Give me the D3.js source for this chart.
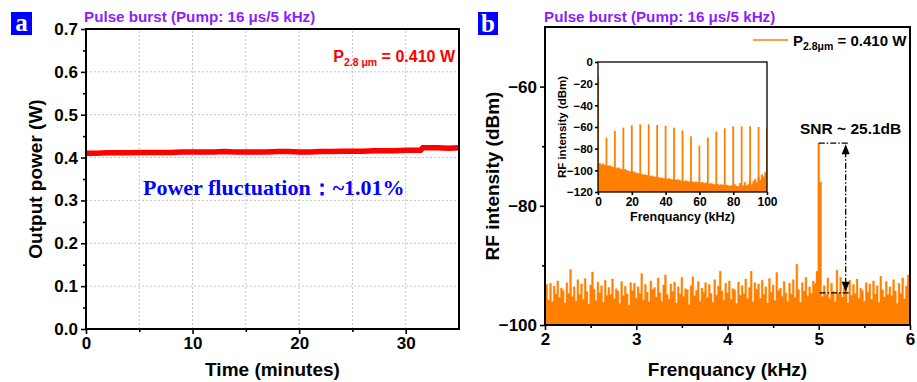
<!DOCTYPE html>
<html><head><meta charset="utf-8">
<script src="https://cdn.jsdelivr.net/npm/d3@7"></script>
<style>
body{margin:0;background:#fff;}
svg{display:block;}
text{font-family:"Liberation Sans",Arial,sans-serif;}
</style></head>
<body>
<svg id="c" width="917" height="382"></svg>
<script>
// ---------- DATA ----------
// Panel a: output power vs time
const timeA = [0,1,2,3,4,5,6,7,8,9,10,11,12,13,14,15,16,17,18,19,20,21,22,23,24,25,26,27,28,29,30,31,31.4,31.6,32,33,34,35];
const powerA = [0.410,0.410,0.411,0.411,0.411,0.412,0.412,0.412,0.412,0.413,0.413,0.413,0.413,0.414,0.413,0.413,0.413,0.413,0.414,0.414,0.413,0.413,0.414,0.414,0.415,0.415,0.415,0.416,0.416,0.416,0.417,0.417,0.417,0.423,0.423,0.423,0.422,0.423];
const yTicksA = [0.0,0.1,0.2,0.3,0.4,0.5,0.6,0.7];
const xTicksA = [0,10,20,30];

// Panel b: RF spectrum 2-6 kHz (sampled every 0.02 kHz from 2 kHz)
const freqStartB = 2.0, freqStepB = 0.02;
const rfB = [
-94.5,-93.2,-95.8,-93.0,-96.1,-93.5,-94.8,-92.6,-95.4,-93.8,
-94.2,-96.3,-92.9,-94.7,-90.7,-95.2,-93.6,-96.0,-92.4,-94.9,
-93.1,-95.7,-92.2,-94.4,-96.5,-93.3,-91.1,-94.0,-95.9,-92.8,
-94.6,-93.4,-96.2,-92.5,-95.0,-93.7,-94.9,-92.3,-95.6,-93.9,
-94.3,-96.4,-92.7,-95.1,-93.5,-94.8,-96.7,-92.9,-94.2,-93.0,
-95.5,-93.6,-94.7,-91.4,-95.8,-93.2,-94.5,-96.1,-92.6,-94.0,
-93.7,-95.3,-92.1,-94.6,-96.0,-93.3,-91.6,-94.9,-95.7,-93.1,
-94.4,-92.8,-96.3,-93.6,-94.8,-92.0,-95.2,-93.9,-94.1,-96.6,
-93.4,-91.9,-95.1,-94.2,-92.7,-96.0,-93.8,-94.5,-92.9,-95.4,
-93.2,-94.7,-96.2,-92.4,-95.0,-93.5,-91.0,-94.3,-95.8,-93.0,
-94.6,-92.6,-95.7,-93.9,-94.1,-96.4,-92.8,-95.0,-93.4,-94.8,
-92.3,-95.6,-93.7,-91.0,-96.1,-92.9,-94.0,-93.1,-95.5,-92.5,
-94.9,-93.6,-96.3,-92.2,-94.5,-93.3,-95.9,-91.2,-94.2,-93.8,
-95.2,-92.7,-94.6,-96.0,-93.0,-94.8,-92.4,-95.4,-89.8,-94.1,
-96.2,-92.9,-94.3,-92.0,-95.1,-93.6,-94.7,-92.6,-93.0,-91.0,
-69.5,-76.0,-95.2,-93.4,-94.9,-92.1,-95.6,-93.0,-94.4,-96.1,
-90.8,-94.6,-92.0,-95.3,-93.7,-94.0,-96.3,-92.5,-95.0,-93.2,
-94.7,-92.3,-95.5,-93.8,-94.2,-96.0,-92.9,-94.5,-93.1,-95.7,
-92.6,-94.8,-93.4,-96.2,-91.8,-94.1,-95.3,-92.7,-94.9,-93.6,
-95.1,-92.4,-94.3,-96.4,-93.0,-94.7,-92.1,-95.6,-93.5,-91.6,
-94.8];
const yTicksB = [-100,-80,-60];
const xTicksB = [2,3,4,5,6];
const snrPeak = -69.5, snrFloor = -94.6;

// Inset: RF spectrum 0-100 kHz
const floorInStart = 0, floorInStep = 1;
const floorIn = [-94,-93.5,-94.5,-94,-95,-95.5,-96,-95.5,-96.5,-97,-97.5,-98,-97.5,-98.5,-99,-99.5,-99,-100,-100.5,-101,
-101.5,-101,-102,-102.5,-103,-103,-103.5,-104,-104,-104.5,-105,-105.5,-105,-106,-106,-106.5,-106.5,-107,-107,-107.5,
-107.5,-108,-107.5,-108,-108.5,-108.5,-109,-108.5,-109,-109.5,-109.5,-110,-109.5,-110,-110.5,-110,-110.5,-111,-110.5,-111,
-111,-111.5,-111,-112,-111.5,-112,-112.5,-112,-112.5,-113,-112.5,-113,-113.5,-113,-113.5,-114,-113.5,-114,-114.5,-114,
-114.5,-113,-114.5,-115,-112,-115,-114,-111,-114,-113,-110,-113,-110,-108,-111,-106,-109,-104,-106,-102,-100];
const peakFreqIn = [0,5,10,15,20,25,30,35,40,45,50,55,60,65,70,75,80,85,90,95,100];
const peakDbIn = [-13,-69.8,-63.7,-60.6,-58.5,-57.5,-57.5,-58.2,-58.8,-60.6,-63.1,-68.6,-77.2,-69.8,-64.3,-61.2,-59.4,-59.4,-59.4,-60,-61.2];
const yTicksIn = [0,-20,-40,-60,-80,-100,-120];
const xTicksIn = [0,20,40,60,80,100];

// ---------- DRAW ----------
const svg = d3.select("#c");
const ORANGE = "#FF8000", PURPLE = "#8C1EFF";
const TICKFS = 17, TITLEFS = 19;

function styleAxis(g, fs){
  g.select(".domain").remove();
  g.selectAll(".tick line").attr("stroke","#000").attr("stroke-width",1.6);
  g.selectAll(".tick text").attr("fill","#000").style("font-family","'Liberation Sans',Arial,sans-serif")
   .style("font-weight","bold").style("font-size",fs+"px");
}

// ===== Panel a =====
const xA = d3.scaleLinear([0,35],[86,459]);
const yA = d3.scaleLinear([0,0.7],[329,29]);
const gridA = svg.append("g").attr("stroke","#c4c4c4").attr("stroke-width",1).attr("stroke-dasharray","2,2");
d3.range(5,35,5).forEach(t=>gridA.append("line").attr("x1",xA(t)).attr("x2",xA(t)).attr("y1",yA(0)).attr("y2",yA(0.7)));
yTicksA.slice(1,-1).forEach(v=>gridA.append("line").attr("x1",xA(0)).attr("x2",xA(35)).attr("y1",yA(v)).attr("y2",yA(v)));

svg.append("path").datum(timeA.map((t,i)=>[t,powerA[i]]))
  .attr("fill","none").attr("stroke","#FF0000").attr("stroke-width",5.5)
  .attr("d",d3.line().x(d=>xA(d[0])).y(d=>yA(d[1])));

let g;
g = svg.append("g").attr("transform",`translate(${xA(0)},0)`)
  .call(d3.axisLeft(yA).tickValues(yTicksA).tickFormat(d3.format(".1f")).tickSize(5).tickPadding(3));
styleAxis(g,TICKFS);
g = svg.append("g").attr("transform",`translate(${xA(0)},0)`)
  .call(d3.axisLeft(yA).tickValues(d3.range(0.05,0.7,0.1)).tickFormat("").tickSize(3));
styleAxis(g,TICKFS);
g = svg.append("g").attr("transform",`translate(0,${yA(0)})`)
  .call(d3.axisBottom(xA).tickValues(xTicksA).tickFormat(d3.format("d")).tickSize(5).tickPadding(3));
styleAxis(g,TICKFS);
g = svg.append("g").attr("transform",`translate(0,${yA(0)})`)
  .call(d3.axisBottom(xA).tickValues([5,15,25]).tickFormat("").tickSize(3));
styleAxis(g,TICKFS);
svg.append("rect").attr("x",xA(0)).attr("y",yA(0.7)).attr("width",xA(35)-xA(0)).attr("height",yA(0)-yA(0.7))
  .attr("fill","none").attr("stroke","#000").attr("stroke-width",2);

svg.append("text").attr("transform",`translate(42,${(yA(0)+yA(0.7))/2}) rotate(-90)`)
  .attr("text-anchor","middle").attr("font-weight","bold").attr("font-size",TITLEFS).text("Output power (W)");
svg.append("text").attr("x",(xA(0)+xA(35))/2).attr("y",376).attr("text-anchor","middle")
  .attr("font-weight","bold").attr("font-size",TITLEFS).text("Time (minutes)");
svg.append("text").attr("x",84).attr("y",22).attr("fill",PURPLE).attr("font-weight","bold").attr("font-size",15.2)
  .text("Pulse burst (Pump: 16 μs/5 kHz)");
const ann = svg.append("text").attr("x",455).attr("y",62).attr("text-anchor","end").attr("fill","#FF0000")
  .attr("font-weight","bold").attr("font-size",16);
ann.append("tspan").text("P");
ann.append("tspan").attr("font-size",10.5).attr("dy",4).text("2.8 μm");
ann.append("tspan").attr("dy",-4).text(" = 0.410 W");
svg.append("text").attr("x",143).attr("y",195).attr("fill","#0000FF").attr("font-weight","bold").attr("font-size",22)
  .style("font-family","'Liberation Serif','Times New Roman',serif").text("Power fluctuation：~1.01%");
svg.append("rect").attr("x",11).attr("y",12).attr("width",21).attr("height",23).attr("fill","#0000FF");
svg.append("text").attr("x",21.5).attr("y",31).attr("text-anchor","middle").attr("fill","#fff").attr("font-weight","bold")
  .attr("font-size",25).style("font-family","'Liberation Serif',serif").text("a");

// ===== Panel b =====
const xB = d3.scaleLinear([2,6],[545,910]);
const yB = d3.scaleLinear([-100,-50],[325,27]);
svg.append("clipPath").attr("id","clipB").append("rect").attr("x",xB(2)).attr("y",yB(-50)).attr("width",xB(6)-xB(2)).attr("height",yB(-100)-yB(-50));
svg.append("path").datum(rfB).attr("clip-path","url(#clipB)")
  .attr("fill",ORANGE).attr("stroke",ORANGE).attr("stroke-width",0.4)
  .attr("d",d3.area().x((d,i)=>xB(freqStartB+i*freqStepB)).y0(yB(-100)).y1(d=>yB(d)).curve(d3.curveStep));

g = svg.append("g").attr("transform",`translate(${xB(2)},0)`)
  .call(d3.axisLeft(yB).tickValues(yTicksB).tickSize(5).tickPadding(3));
styleAxis(g,TICKFS);
g = svg.append("g").attr("transform",`translate(${xB(2)},0)`)
  .call(d3.axisLeft(yB).tickValues([-90,-70]).tickFormat("").tickSize(3));
styleAxis(g,TICKFS);
g = svg.append("g").attr("transform",`translate(0,${yB(-100)})`)
  .call(d3.axisBottom(xB).tickValues(xTicksB).tickFormat(d3.format("d")).tickSize(5).tickPadding(3));
styleAxis(g,TICKFS);
g = svg.append("g").attr("transform",`translate(0,${yB(-100)})`)
  .call(d3.axisBottom(xB).tickValues([2.5,3.5,4.5,5.5]).tickFormat("").tickSize(3));
styleAxis(g,TICKFS);
svg.append("rect").attr("x",xB(2)).attr("y",yB(-50)).attr("width",xB(6)-xB(2)).attr("height",yB(-100)-yB(-50))
  .attr("fill","none").attr("stroke","#000").attr("stroke-width",2);

svg.append("text").attr("transform",`translate(499,${(yB(-100)+yB(-50))/2}) rotate(-90)`)
  .attr("text-anchor","middle").attr("font-weight","bold").attr("font-size",TITLEFS).text("RF intensity (dBm)");
svg.append("text").attr("x",(xB(2)+xB(6))/2).attr("y",376).attr("text-anchor","middle")
  .attr("font-weight","bold").attr("font-size",TITLEFS).text("Frenquancy (kHz)");
svg.append("text").attr("x",544).attr("y",22).attr("fill",PURPLE).attr("font-weight","bold").attr("font-size",15.2)
  .text("Pulse burst (Pump: 16 μs/5 kHz)");
svg.append("rect").attr("x",478).attr("y",12).attr("width",20).attr("height",23).attr("fill","#0000FF");
svg.append("text").attr("x",488).attr("y",32).attr("text-anchor","middle").attr("fill","#fff").attr("font-weight","bold")
  .attr("font-size",25).style("font-family","'Liberation Serif',serif").text("b");

// legend
svg.append("line").attr("x1",753).attr("x2",788).attr("y1",40).attr("y2",40).attr("stroke",ORANGE).attr("stroke-width",1.5);
const leg = svg.append("text").attr("x",793).attr("y",46).attr("font-weight","bold").attr("font-size",15);
leg.append("tspan").text("P");
leg.append("tspan").attr("font-size",10.5).attr("dy",4).text("2.8μm");
leg.append("tspan").attr("dy",-4).text(" = 0.410 W");

// SNR annotation
const dd = "6,2,1.5,2";
const annG = svg.append("g").attr("stroke","#000").attr("stroke-width",1.3).attr("fill","none");
annG.append("line").attr("x1",xB(5.0)).attr("x2",xB(5.33)).attr("y1",yB(snrPeak)).attr("y2",yB(snrPeak)).attr("stroke-dasharray",dd);
annG.append("line").attr("x1",xB(5.01)).attr("x2",xB(5.33)).attr("y1",yB(snrFloor)).attr("y2",yB(snrFloor)).attr("stroke-dasharray",dd);
annG.append("line").attr("x1",xB(5.295)).attr("x2",xB(5.295)).attr("y1",yB(snrPeak)+8).attr("y2",yB(snrFloor)-8).attr("stroke-dasharray",dd);
const ax = xB(5.295);
svg.append("path").attr("fill","#000").attr("d",`M${ax},${yB(snrPeak)+1}L${ax-4},${yB(snrPeak)+11}L${ax+4},${yB(snrPeak)+11}Z`);
svg.append("path").attr("fill","#000").attr("d",`M${ax},${yB(snrFloor)-1}L${ax-4},${yB(snrFloor)-11}L${ax+4},${yB(snrFloor)-11}Z`);
svg.append("text").attr("x",800).attr("y",134).attr("font-weight","bold").attr("font-size",15.5).text("SNR ~ 25.1dB");

// ===== Inset =====
const xI = d3.scaleLinear([0,100],[598,767]);
const yI = d3.scaleLinear([-120,0],[192,62]);
svg.append("rect").attr("x",xI(0)).attr("y",yI(0)).attr("width",xI(100)-xI(0)).attr("height",yI(-120)-yI(0)).attr("fill","#fff");
svg.append("clipPath").attr("id","clipI").append("rect").attr("x",xI(0)).attr("y",yI(0)).attr("width",xI(100)-xI(0)).attr("height",yI(-120)-yI(0));
const inG = svg.append("g").attr("clip-path","url(#clipI)");
inG.append("path").datum(floorIn).attr("fill",ORANGE).attr("stroke",ORANGE).attr("stroke-width",0.4)
  .attr("d",d3.area().x((d,i)=>xI(floorInStart+i*floorInStep)).y0(yI(-120)).y1(d=>yI(d)).curve(d3.curveStep));
inG.selectAll("rect.pk").data(peakFreqIn).join("rect").attr("class","pk")
  .attr("x",d=>xI(d)-0.9).attr("width",1.8)
  .attr("y",(d,i)=>yI(peakDbIn[i])).attr("height",(d,i)=>yI(-120)-yI(peakDbIn[i]))
  .attr("fill",ORANGE);

g = svg.append("g").attr("transform",`translate(${xI(0)},0)`)
  .call(d3.axisLeft(yI).tickValues(yTicksIn).tickSize(3).tickPadding(2));
styleAxis(g,11.5);
g = svg.append("g").attr("transform",`translate(0,${yI(-120)})`)
  .call(d3.axisBottom(xI).tickValues(xTicksIn).tickSize(3).tickPadding(2));
styleAxis(g,12);
svg.append("rect").attr("x",xI(0)).attr("y",yI(0)).attr("width",xI(100)-xI(0)).attr("height",yI(-120)-yI(0))
  .attr("fill","none").attr("stroke","#000").attr("stroke-width",1.3);
svg.append("text").attr("transform",`translate(566,${(yI(0)+yI(-120))/2}) rotate(-90)`)
  .attr("text-anchor","middle").attr("font-weight","bold").attr("font-size",11.5).text("RF intensity (dBm)");
svg.append("text").attr("x",(xI(0)+xI(100))/2).attr("y",221).attr("text-anchor","middle")
  .attr("font-weight","bold").attr("font-size",12.5).text("Frenquancy (kHz)");
</script>
</body></html>
